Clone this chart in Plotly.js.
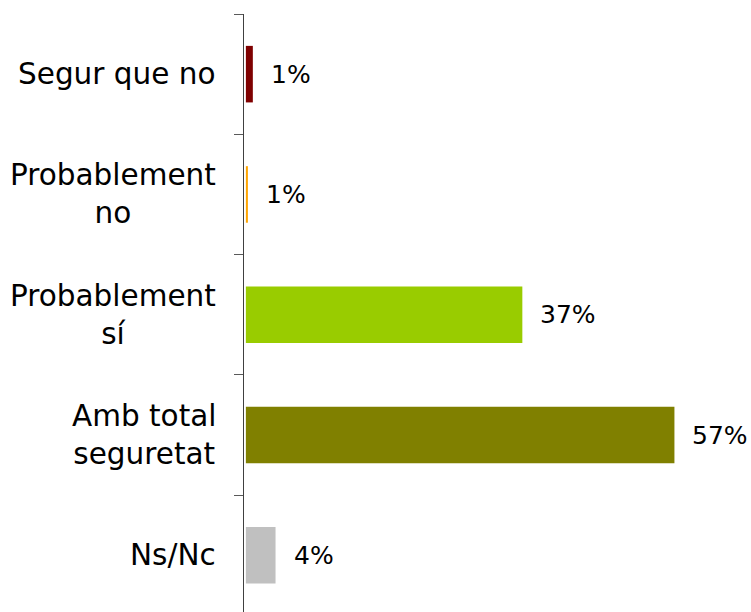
<!DOCTYPE html>
<html>
<head>
<meta charset="utf-8">
<script src="https://cdn.plot.ly/plotly-3.0.1.min.js"></script>
<style>html,body{margin:0;padding:0;background:#fff;}#chart{width:751px;height:612px;}</style>
</head>
<body>
<div id="chart"></div>
<script>
var categories = ["Segur que no", "Probablement<br>no", "Probablement<br>sí", "Amb total<br>seguretat", "Ns/Nc"];
var values = [0.93, 0.27, 36.9, 57.2, 3.96];
var valueLabels = ["1%", "1%", "37%", "57%", "4%"];
var colors = ["#7f0000", "#ffa500", "#99cc00", "#808000", "#c0c0c0"];

var FONT = "DejaVu Sans";

var trace = {
  type: "bar",
  orientation: "h",
  y: categories,
  x: values,
  marker: {color: colors, line: {width: 0}},
  hoverinfo: "none"
};

var annotations = [];
categories.forEach(function (c, i) {
  annotations.push({
    xref: "paper", yref: "y", x: 0, y: c,
    text: c, showarrow: false, xanchor: "right", yanchor: "middle",
    align: "center", xshift: -26,
    font: {family: FONT, size: 29.5, color: "#000"}
  });
  annotations.push({
    xref: "x", yref: "y", x: values[i], y: c,
    text: valueLabels[i], showarrow: false, xanchor: "left", yanchor: "middle",
    xshift: 16,
    font: {family: FONT, size: 25, color: "#000"}
  });
});

var layout = {
  width: 751, height: 612,
  margin: {l: 244, r: 19.5, t: 14, b: 0, pad: 0},
  paper_bgcolor: "#fff", plot_bgcolor: "#fff",
  showlegend: false,
  bargap: 0.53,
  xaxis: {range: [-0.25, 64.75], visible: false, fixedrange: true},
  yaxis: {
    type: "category",
    range: [4.471, -0.5],
    showticklabels: false,
    showline: true, linecolor: "#404040", linewidth: 1,
    ticks: "outside", tickson: "boundaries", ticklen: 9, tickcolor: "#595959", tickwidth: 1,
    showgrid: false, zeroline: false, fixedrange: true
  },
  annotations: annotations,
  font: {family: FONT}
};

Plotly.newPlot("chart", [trace], layout, {displayModeBar: false, staticPlot: true});
</script>
</body>
</html>
